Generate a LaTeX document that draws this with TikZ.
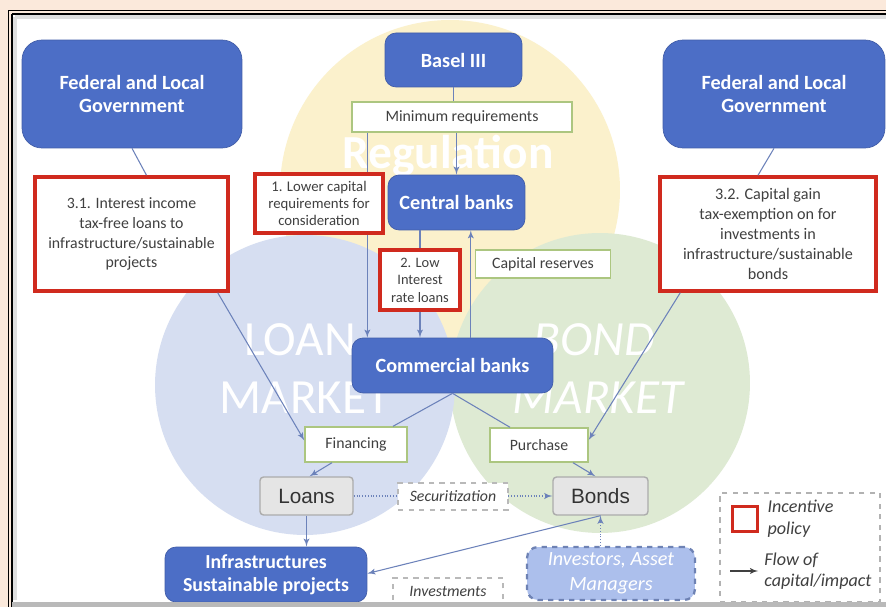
\documentclass[tikz,border=0pt]{standalone}
\usepackage{fontspec}
\setmainfont{Carlito}
\newfontfamily\arialfont{Liberation Sans}
\usepackage{xcolor}
\usepackage{tikz}
\usetikzlibrary{positioning,arrows}
\definecolor{govblue}{RGB}{76,110,198}
\definecolor{policyred}{RGB}{208,42,30}
\definecolor{taggreen}{RGB}{172,198,128}
\definecolor{textgray}{RGB}{64,64,64}
\definecolor{linkblue}{RGB}{108,130,186}
\definecolor{regyellow}{RGB}{251,241,204}
\definecolor{loanblue}{RGB}{214,222,241}
\definecolor{bondgreen}{RGB}{222,234,211}
\definecolor{peach}{RGB}{251,233,219}
\definecolor{investblue}{RGB}{172,191,236}
\tikzset{
govbox/.style={
  draw=govblue!85!black,
  fill=govblue,
  rounded corners=0.4cm,
  text=white,
  inner sep=0pt,
  align=center,
  font=\bfseries\fontsize{11.5}{13.6}\selectfont
  },
bluebox/.style={govbox, rounded corners=0.22cm},
policy/.style={
  draw=policyred,
  line width=2pt,
  fill=white,
  text=textgray,
  inner sep=0pt,
  align=center
  },
tag/.style={
  draw=taggreen,
  line width=0.8pt,
  fill=white,
  text=textgray,
  inner sep=0pt,
  font=\fontsize{9}{11}\selectfont
  },
asset/.style={
  draw=gray!65,
  line width=0.8pt,
  fill=gray!20,
  rounded corners=2pt,
  text=black!80,
  inner sep=0pt,
  font=\arialfont\fontsize{11.8}{14}\selectfont
  },
dashtag/.style={
  draw=gray!55,
  dashed,
  line width=0.8pt,
  fill=white,
  text=textgray,
  inner sep=0pt,
  font=\itshape\fontsize{9}{11}\selectfont
  },
link/.style={draw=linkblue, line width=0.6pt},
line/.style={link, ->, >=latex'},
bigword/.style={text=white, font=\fontsize{28}{28}\selectfont}
}
\begin{document}
\begin{tikzpicture}[x=0.02cm, y=-0.02cm]
\useasboundingbox (0,0) rectangle (886,607);
\fill[peach] (0,0) rectangle (886,607);
\fill[white] (12,13) rectangle (886,607);
\draw[black, line width=0.8pt] (8.5,10.5) -- (900,10.5);
\draw[black, line width=0.8pt] (8.5,10.5) -- (8.5,610);
\draw[black, line width=0.8pt] (12,14) -- (900,14);
\draw[black, line width=0.8pt] (12,14) -- (12,610);
\draw[gray!25, line width=2pt] (15,17) -- (890,17);
\draw[gray!25, line width=2pt] (15,17) -- (15,600);

\fill[regyellow] (450,190) circle[radius=3.4cm];
\fill[bondgreen] (600,383) circle[radius=3cm];
\fill[loanblue] (305,385) circle[radius=3cm];
\node[bigword, font=\bfseries\fontsize{27}{27}\selectfont] (reg) at (448,156) {Regulation};
\node[bigword] (loanw) at (300,340) {LOAN};
\node[bigword] (loanm) at (305,398) {MARKET};
\node[bigword, font=\itshape\fontsize{28}{28}\selectfont] (bondw) at (594,340) {BOND};
\node[bigword, font=\itshape\fontsize{28}{28}\selectfont] (bondm) at (598,398) {MARKET};

\node[govbox, minimum width=4.4cm, minimum height=2.16cm] (govl) at (132,94) {Federal and Local\\Government};
\node[govbox, minimum width=4.44cm, minimum height=2.16cm] (govr) at (774,94) {Federal and Local\\Government};
\node[bluebox, minimum width=2.74cm, minimum height=1.08cm] (basel) at (453.5,60) {Basel III};
\node[tag, minimum width=4.4cm, minimum height=0.6cm] (minreq) at (462,117) {Minimum requirements};
\node[bluebox, minimum width=2.74cm, minimum height=1.1cm] (central) at (456.5,202.5) {Central banks};
\node[policy, minimum width=2.56cm, minimum height=1.18cm, font=\fontsize{8.4}{9.9}\selectfont] (lower) at (319,203.5) {1. Lower capital\\requirements for\\consideration};
\node[policy, minimum width=1.6cm, minimum height=1.2cm, font=\fontsize{8.2}{9.9}\selectfont] (lowrate) at (420,280) {2. Low\\Interest\\rate loans};
\node[tag, minimum width=2.7cm, minimum height=0.56cm] (capres) at (543,264) {Capital reserves};
\node[bluebox, minimum width=4.02cm, minimum height=1.1cm] (commercial) at (452.5,365.5) {Commercial banks};
\node[policy, minimum width=3.86cm, minimum height=2.28cm, font=\fontsize{9}{11.3}\selectfont] (tax31) at (131.5,234) {3.1. Interest income\\tax-free loans to\\infrastructure/sustainable\\projects};
\node[policy, minimum width=4.32cm, minimum height=2.28cm, font=\fontsize{9.2}{11.3}\selectfont] (tax32) at (768,234) {3.2. Capital gain\\tax-exemption on for\\investments in\\infrastructure/sustainable\\bonds};
\node[tag, minimum width=2.04cm, minimum height=0.7cm] (financing) at (356,444.5) {Financing};
\node[tag, minimum width=1.96cm, minimum height=0.68cm] (purchase) at (539,445) {Purchase};
\node[asset, minimum width=1.86cm, minimum height=0.76cm] (loans) at (306.5,496) {Loans};
\node[asset, minimum width=1.9cm, minimum height=0.76cm] (bonds) at (600.5,496) {Bonds};
\node[bluebox, minimum width=4.04cm, minimum height=1.1cm, font=\bfseries\fontsize{11.3}{13}\selectfont] (infra) at (266,574.5) {Infrastructures\\Sustainable projects};
\node[draw=linkblue!90!gray, dashed, line width=1.3pt, fill=investblue, rounded corners=0.22cm, text=white, align=center, inner sep=0pt, minimum width=3.36cm, minimum height=1.06cm, font=\itshape\fontsize{11.5}{14}\selectfont] (investors) at (611,573.5) {Investors, Asset\\Managers};

\draw[link] (govl.south) -- ([xshift=0.3cm]tax31.north);
\draw[link] (govr.south) -- ([xshift=-0.2cm]tax32.north);
\draw[line] ([xshift=-0.24cm]tax31.south east) -- ([yshift=0.08cm]financing.west);
\draw[line] ([xshift=0.44cm]tax32.south west) -- ([yshift=0.1cm]purchase.east);
\draw[link] (basel.south) -- (basel.south |- minreq.north);
\draw[line] (minreq.south -| central.north) -- (central.north);
\draw[link] ([xshift=0.32cm]minreq.south west) coordinate (m1) -- (m1 |- lower.north);
\draw[line] (m1 |- lower.south) -- (m1 |- commercial.north);
\draw[link] (central.south -| lowrate.north) -- (lowrate.north);
\draw[line] (lowrate.south) -- (lowrate.south |- commercial.north);
\draw[line] ([xshift=-0.08cm]capres.west |- commercial.north) -- ([xshift=-0.08cm]capres.west |- central.south);
\draw[link] (commercial.south) -- ([xshift=0.74cm]financing.north);
\draw[link] (commercial.south) -- ([xshift=-0.58cm]purchase.north);
\draw[line] ([xshift=-0.48cm]financing.south) -- ([xshift=0.06cm]loans.north);
\draw[line] ([xshift=0.68cm]purchase.south) -- ([xshift=-0.1cm]bonds.north);
\draw[line, densely dotted] (loans.east) -- (bonds.west);
\draw[line] (loans.south) -- (loans.south |- infra.north);
\draw[line] (bonds.south) -- ([yshift=0.02cm]infra.east);
\draw[line, densely dotted] (bonds.south |- investors.north) -- (bonds.south);

\node[dashtag, minimum width=2.2cm, minimum height=0.54cm] (secur) at (453,496.5) {Securitization};
\node[dashtag, minimum width=2.2cm, minimum height=0.54cm] (invest) at (448,591.5) {Investments};

\node[draw=gray!60, dashed, line width=1.2pt, fill=white, minimum width=3.2cm, minimum height=2.18cm] (legend) at (800,547.5) {};
\node[policy, minimum size=0.5cm] (legsq) at (745,519) {};
\node[right=0.16cm of legsq, align=left, text=textgray, inner sep=0pt, font=\itshape\fontsize{10.3}{12.3}\selectfont] (legpol) {Incentive\\policy};
\coordinate (lgA) at (730,571);
\coordinate (lgB) at (758,571);
\draw[->, >=latex', line width=0.6pt, textgray] (lgA) -- (lgB);
\node[right=0.12cm of lgB, align=left, text=textgray, inner sep=0pt, font=\itshape\fontsize{10.3}{12.3}\selectfont] (legflow) {Flow of\\capital/impact};

\fill[gray!55] (12,602) rectangle (886,607);
\end{tikzpicture}
\end{document}
